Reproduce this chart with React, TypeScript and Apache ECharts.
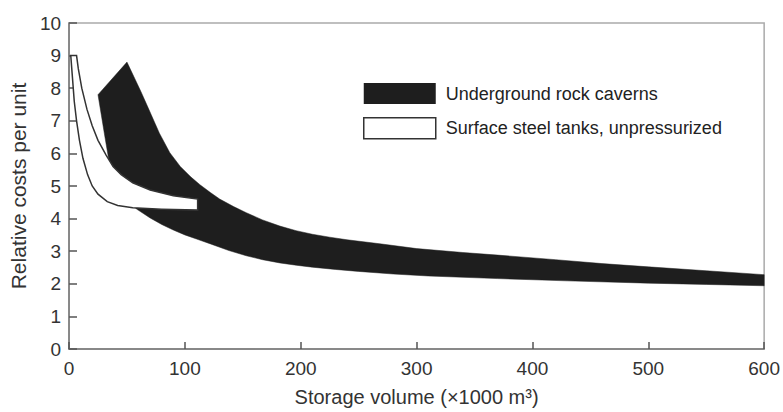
import React, { useEffect, useRef } from "react";
import * as echarts from "echarts";

// Storage volume (×1000 m³) vs relative cost per unit, as [volume, cost] pairs.
// Underground rock caverns: upper and lower bound of the cost band (left to right).
const cavernUpper: [number, number][] = [
  [25, 7.8], [50, 8.8], [56, 8.35], [62, 7.9], [68, 7.42], [78, 6.62], [87, 6.02],
  [96, 5.6], [105, 5.28], [113, 5.04], [122, 4.8], [130, 4.6], [142, 4.37],
  [153, 4.18], [167, 3.96], [182, 3.77], [196, 3.63], [210, 3.52], [225, 3.43],
  [240, 3.35], [270, 3.22], [300, 3.08], [340, 2.96], [370, 2.88], [420, 2.74],
  [460, 2.62], [500, 2.52], [550, 2.4], [600, 2.28],
];
const cavernLower: [number, number][] = [
  [25, 7.8], [28, 7.15], [31, 6.5], [35, 5.66], [40, 5.25], [48, 4.7], [58, 4.3],
  [70, 4.02], [80, 3.82], [90, 3.65], [100, 3.5], [112, 3.35], [124, 3.2],
  [138, 3.02], [153, 2.86], [167, 2.74], [182, 2.64], [196, 2.57], [210, 2.51],
  [230, 2.44], [250, 2.38], [280, 2.3], [310, 2.24], [370, 2.16], [430, 2.09],
  [500, 2.02], [550, 1.98], [600, 1.94],
];

// Surface steel tanks, unpressurized: lower and upper bound of the cost band.
const tankLower: [number, number][] = [
  [1.5, 9.0], [3, 8.3], [4.5, 7.6], [6.5, 7.0], [9, 6.4], [12, 5.85], [16, 5.35],
  [20, 5.0], [25, 4.75], [33, 4.52], [42, 4.4], [55, 4.33], [80, 4.29], [111, 4.26],
];
const tankUpper: [number, number][] = [
  [6.5, 9.0], [8, 8.6], [11, 8.0], [15.5, 7.35], [20, 6.85], [25, 6.4], [32, 5.95],
  [38, 5.6], [45, 5.35], [55, 5.1], [70, 4.88], [90, 4.7], [111, 4.6],
];

const seriesNames = ["Underground rock caverns", "Surface steel tanks, unpressurized"];

const FONT = "'Liberation Sans', Arial, Helvetica, sans-serif";
const TEXT = "#333";
const CAVERN_FILL = "#1e1e1e";

// Closed outline: one bound left to right, the other right to left.
function bandOutline(a: [number, number][], b: [number, number][]) {
  return [...a, ...b.slice().reverse()];
}

const cavernBand = bandOutline(cavernUpper, cavernLower);
const tankBand = bandOutline(tankLower, tankUpper);

function bandSeries(name: string, pts: [number, number][], style: any, z: number) {
  return {
    type: "custom",
    name,
    z,
    data: pts,
    encode: { x: 0, y: 1 },
    itemStyle: { color: style.fill, borderColor: style.stroke },
    renderItem: (params: any, api: any) => {
      if (params.dataIndex !== 0) return null;
      return {
        type: "polygon",
        shape: { points: pts.map((p) => api.coord(p)) },
        style,
      };
    },
  };
}

export default function App() {
  const ref = useRef<HTMLDivElement>(null);

  useEffect(() => {
    if (!ref.current) return;
    const chart = echarts.init(ref.current, undefined, { renderer: "svg" });
    chart.setOption({
      animation: false,
      backgroundColor: "#fff",
      textStyle: { fontFamily: FONT },
      grid: {
        left: 69,
        right: 18,
        top: 23,
        bottom: 62,
        show: true,
        borderColor: "#aaa",
        borderWidth: 1.5,
      },
      legend: {
        orient: "vertical",
        left: 363,
        top: 83,
        padding: 0,
        itemWidth: 72,
        itemHeight: 21,
        itemGap: 13,
        selectedMode: false,
        textStyle: { fontSize: 18, color: "#222", fontFamily: FONT, padding: [0, 0, 0, 5] },
        data: [
          { name: seriesNames[0], icon: "rect", itemStyle: { color: CAVERN_FILL } },
          {
            name: seriesNames[1],
            icon: "rect",
            itemStyle: { color: "#fff", borderColor: "#333", borderWidth: 1.5 },
          },
        ],
      },
      xAxis: {
        type: "value",
        min: 0,
        max: 600,
        interval: 100,
        name: "Storage volume (×1000 m³)",
        nameLocation: "middle",
        nameGap: 38,
        nameTextStyle: { fontSize: 20, color: TEXT, fontFamily: FONT },
        axisLine: { show: true, onZero: false, lineStyle: { color: "#777", width: 1.5 } },
        axisTick: { show: true, inside: true, length: 7, lineStyle: { color: "#555", width: 1.5 } },
        axisLabel: { fontSize: 19, color: TEXT, margin: 10, fontFamily: FONT },
        splitLine: { show: false },
      },
      yAxis: {
        type: "value",
        min: 0,
        max: 10,
        interval: 1,
        name: "Relative costs per unit",
        nameLocation: "middle",
        nameGap: 40,
        nameTextStyle: { fontSize: 21, color: TEXT, fontFamily: FONT },
        axisLine: { show: true, lineStyle: { color: "#777", width: 1.5 } },
        axisTick: { show: true, inside: true, length: 8, lineStyle: { color: "#555", width: 1.5 } },
        axisLabel: { fontSize: 19, color: TEXT, margin: 8, fontFamily: FONT },
        splitLine: { show: false },
      },
      series: [
        bandSeries(seriesNames[0], cavernBand, { fill: CAVERN_FILL, stroke: CAVERN_FILL, lineWidth: 0.5 }, 2),
        bandSeries(seriesNames[1], tankBand, { fill: "#fff", stroke: "#333", lineWidth: 1.5 }, 3),
      ],
    });
    return () => chart.dispose();
  }, []);

  return (
    <div
      ref={ref}
      style={{ position: "fixed", left: 0, top: 0, width: 783, height: 412, background: "#fff" }}
    />
  );
}
